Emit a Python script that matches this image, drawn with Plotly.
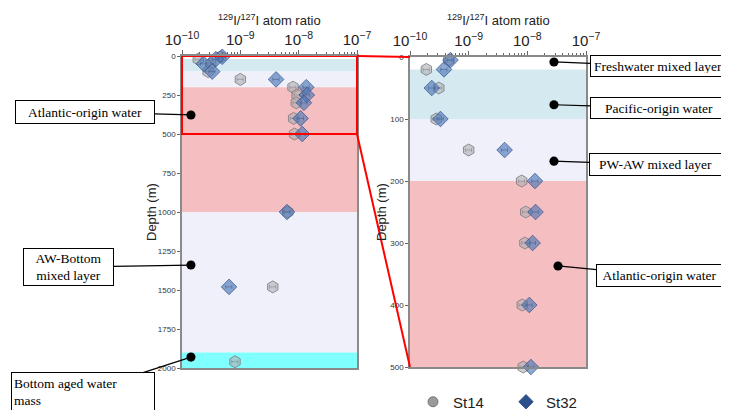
import plotly.graph_objects as go

# ---------------- data ----------------
st14_depth = [5, 20, 50, 100, 150, 200, 250, 300, 400, 500, 1000, 1480, 1960]
st14_ratio = [4.6e-10, 1.9e-10, 3.1e-10, 2.8e-10, 1.0e-9, 8.0e-9, 9.4e-9, 9.1e-9,
              8.2e-9, 8.5e-9, 6.5e-9, 3.6e-9, 8.1e-10]
st32_depth = [5, 20, 50, 100, 150, 200, 250, 300, 400, 500, 1000, 1480]
st32_ratio = [4.9e-10, 3.8e-10, 2.35e-10, 3.3e-10, 4.1e-9, 1.35e-8, 1.38e-8, 1.23e-8,
              1.08e-8, 1.15e-8, 6.3e-9, 6.4e-10]

# water-mass layers (depth ranges, m)
layer_top = [20, 100, 200, 1000, 1900]
layer_bottom = [100, 200, 1000, 1900, 2000]
layer_color = ["#d4eaf0", "#f0f0fa", "#f5bec1", "#f0f0fa", "#80ffff"]

left_yticks = [0, 250, 500, 750, 1000, 1250, 1500, 1750, 2000]
right_yticks = [0, 100, 200, 300, 400, 500]
zoom_depth = 500
full_depth = 2000

# ---------------- layout geometry ----------------
# the page body has an 8px margin, so the figure is offset by 8px
OFF = 8
W, H = 729 - OFF, 410 - OFF


def px(x):
    return (x - OFF) / W


def py(y):
    return 1 - (y - OFF) / H


L_x = [px(182), px(357)]
L_y = [py(368), py(56)]
R_x = [px(410), px(586)]
R_y = [py(367), py(57)]

fig = go.Figure()

hex_style = dict(symbol="hexagon", size=12, color="rgba(175,175,180,0.6)",
                 line=dict(color="rgba(120,120,125,0.8)", width=1))
dia_style = dict(symbol="diamond", size=12, color="rgba(70,115,180,0.62)",
                 line=dict(color="rgba(50,80,140,0.7)", width=1))
err = dict(type="percent", value=12, thickness=0.8, width=2, color="rgba(60,60,60,0.7)")

for (xa, ya, maxd) in [("x", "y", full_depth), ("x2", "y2", zoom_depth)]:
    d14 = [d for d in st14_depth if d <= maxd]
    r14 = [r for d, r in zip(st14_depth, st14_ratio) if d <= maxd]
    d32 = [d for d in st32_depth if d <= maxd]
    r32 = [r for d, r in zip(st32_depth, st32_ratio) if d <= maxd]
    fig.add_trace(go.Scatter(x=r14, y=d14, mode="markers", marker=hex_style,
                             error_x=err, xaxis=xa, yaxis=ya, showlegend=False,
                             cliponaxis=False))
    fig.add_trace(go.Scatter(x=r32, y=d32, mode="markers", marker=dia_style,
                             error_x=err, xaxis=xa, yaxis=ya, showlegend=False,
                             cliponaxis=False))

# legend entries
fig.add_trace(go.Scatter(x=[None], y=[None], mode="markers", name="St14",
                         marker=dict(symbol="circle", size=10, color="#9a9a9a",
                                     line=dict(color="#777", width=1)),
                         xaxis="x", yaxis="y", showlegend=True))
fig.add_trace(go.Scatter(x=[None], y=[None], mode="markers", name="St32",
                         marker=dict(symbol="diamond", size=11, color="#2d4f8c",
                                     line=dict(color="#2d4f8c", width=1)),
                         xaxis="x", yaxis="y", showlegend=True))

shapes = []
for ya, xd, maxd in [("y", "x domain", full_depth), ("y2", "x2 domain", zoom_depth)]:
    for t, b, c in zip(layer_top, layer_bottom, layer_color):
        if t >= maxd:
            continue
        shapes.append(dict(type="rect", xref=xd, yref=ya, x0=0, x1=1, y0=t,
                           y1=min(b, maxd), fillcolor=c, line=dict(width=0),
                           layer="below"))

# red zoom rectangle on left panel
shapes.append(dict(type="rect", xref="x domain", yref="y", x0=0, x1=1, y0=0,
                   y1=zoom_depth, line=dict(color="red", width=2),
                   fillcolor="rgba(0,0,0,0)", layer="above"))
# connecting lines
y500_left = L_y[1] - (zoom_depth / full_depth) * (L_y[1] - L_y[0])
shapes.append(dict(type="line", xref="paper", yref="paper", x0=L_x[1], y0=L_y[1],
                   x1=R_x[0], y1=R_y[1], line=dict(color="red", width=2)))
shapes.append(dict(type="line", xref="paper", yref="paper", x0=L_x[1], y0=y500_left,
                   x1=R_x[0], y1=R_y[0], line=dict(color="red", width=2)))

serif = dict(family="Liberation Serif, Times New Roman, serif", size=13.5, color="black")


def box(text, xref, yref, x, y, ax, ay, w, h, align="center", pad=2):
    return dict(text=text, xref=xref, yref=yref, x=x, y=y, ax=ax, ay=ay,
                showarrow=True, arrowhead=6, arrowsize=1.9, arrowwidth=1.2,
                arrowcolor="black", standoff=0,
                font=serif, bgcolor="white", bordercolor="black", borderwidth=1,
                borderpad=pad, width=w, height=h, align=align)


sans = "Helvetica, Arial, Liberation Sans, sans-serif"
title_font = dict(family=sans, size=13, color="#222")
xtitle = "<sup>129</sup>I/<sup>127</sup>I atom ratio"

annotations = [
    box("Atlantic-origin water", "x domain", "y", 0.051, 378, -106, -3, 134, 18),
    box("AW-Bottom<br>mixed layer", "x domain", "y", 0.051, 1340, -122.5, 2, 85, 32),
    box("Bottom aged water<br>mass", "x domain", "y", 0.051, 1930, -108, 35, 138, 34,
        align="left"),
    box("Freshwater mixed layer", "x2 domain", "y2", 0.818, 8, 104, 4, None, 14, pad=3),
    box("Pacific-origin water", "x2 domain", "y2", 0.818, 77, 105, 3, 132, 16),
    box("PW-AW mixed layer", "x2 domain", "y2", 0.818, 168, 101.5, 3.5, 127, 17),
    box("Atlantic-origin water", "x2 domain", "y2", 0.841, 337, 101.5, 9.5, 121, 17),
    # axis titles
    dict(text=xtitle, xref="x domain", yref="paper", x=0.5, y=py(20),
         showarrow=False, font=title_font, xanchor="center", yanchor="middle"),
    dict(text=xtitle, xref="x2 domain", yref="paper", x=0.5, y=py(20),
         showarrow=False, font=title_font, xanchor="center", yanchor="middle"),
    dict(text="Depth (m)", xref="paper", yref="y domain", x=px(151), y=0.5,
         textangle=-90, showarrow=False, font=title_font, xanchor="center",
         yanchor="middle"),
    dict(text="Depth (m)", xref="paper", yref="y2 domain", x=px(382), y=0.5,
         textangle=-90, showarrow=False, font=title_font, xanchor="center",
         yanchor="middle"),
]

frame = dict(showline=True, linecolor="#8a8a8a", linewidth=1.5, mirror=True)


def xaxis(domain, anchor):
    return dict(domain=domain, anchor=anchor, type="log", range=[-10, -7], side="top",
                dtick=1, exponentformat="power", showgrid=False, zeroline=False,
                ticks="outside", ticklen=4, tickcolor="#666",
                tickfont=dict(family=sans, size=12, color="#222"),
                minor=dict(ticks="outside", ticklen=2, tickcolor="#666", dtick="D1",
                           showgrid=False),
                automargin=False, **frame)


def yaxis(domain, anchor, rng, ticks):
    return dict(domain=domain, anchor=anchor, range=rng, tickvals=ticks,
                showgrid=False, zeroline=False, ticks="outside", ticklen=3,
                tickcolor="#666", tickfont=dict(family=sans, size=8, color="#333"),
                automargin=False, **frame)


fig.update_layout(
    width=W, height=H,
    margin=dict(l=0, r=0, t=0, b=0, autoexpand=False),
    paper_bgcolor="white", plot_bgcolor="white",
    xaxis=xaxis(L_x, "y"),
    yaxis=yaxis(L_y, "x", [full_depth, 0], left_yticks),
    xaxis2=xaxis(R_x, "y2"),
    yaxis2=yaxis(R_y, "x2", [zoom_depth, 0], right_yticks),
    shapes=shapes,
    annotations=annotations,
    showlegend=True,
    legend=dict(orientation="h", x=px(413), y=py(402), xanchor="left", yanchor="middle",
                font=dict(family=sans, size=15, color="#222"), entrywidth=48,
                bgcolor="rgba(0,0,0,0)"),
)

fig.write_html("out.html")
